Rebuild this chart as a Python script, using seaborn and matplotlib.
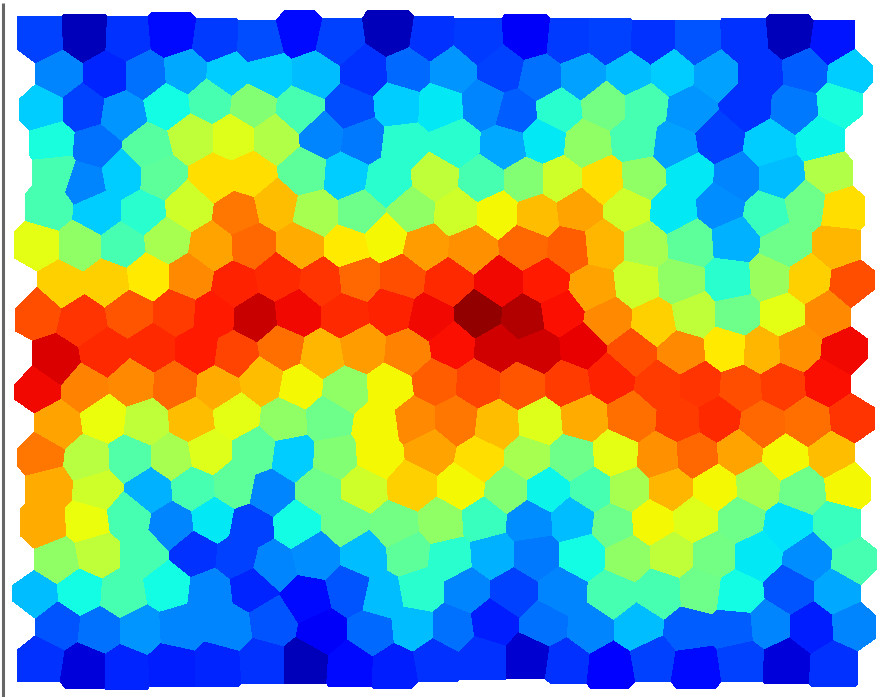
import numpy as np
import matplotlib
matplotlib.use("Agg")
import matplotlib.pyplot as plt
import seaborn as sns

row_x = [
 [40,85,127,172,215,260,300,337,392,430,478,528,568,610,652,697,745,790,832],
 [58,107,145,185,228,268,315,365,408,452,502,540,582,630,672,716,760,805,850],
 [42,83,122,168,210,252,300,350,398,440,485,515,558,605,645,690,747,795,840],
 [52,95,148,192,233,275,323,362,403,455,505,543,587,635,675,718,770,822],
 [55,85,122,160,215,250,305,345,388,435,482,525,560,603,642,690,737,780,830],
 [48,98,143,188,238,275,315,360,412,457,497,537,578,628,673,720,768,805,842],
 [37,80,122,167,212,252,300,348,385,425,472,525,570,603,645,690,735,785,838],
 [60,108,148,190,235,278,322,358,402,448,500,545,593,637,680,730,770,808,852],
 [38,82,130,176,213,255,297,345,392,430,478,525,560,608,655,693,737,782,828],
 [55,105,153,197,235,282,322,362,408,452,497,538,582,632,682,727,762,797,845],
 [37,85,132,175,218,262,300,345,390,435,478,522,568,610,660,700,740,782,828],
 [57,105,145,192,235,285,328,378,415,455,497,540,583,632,680,718,762,808,852],
 [40,88,130,172,208,255,292,335,378,430,480,528,572,615,660,695,740,785,832],
 [48,97,150,193,235,270,320,362,412,462,507,547,592,628,670,715,758,802,848],
 [43,88,128,172,213,250,297,345,395,442,483,530,573,613,652,695,740,788,838],
 [57,97,142,195,238,272,315,365,408,450,492,535,582,628,672,713,757,808,855],
 [35,80,122,168,210,252,307,350,382,420,467,513,562,612,660,700,738,790,838],
 [58,100,140,180,228,273,322,372,413,452,493,545,590,637,690,735,768,812,853],
 [40,85,125,172,218,262,305,350,395,435,482,530,565,612,652,695,742,785,835],
]
row_y = [
 [38,36,38,34,40,42,32,40,32,38,40,36,40,40,42,42,40,36,42],
 [75,75,75,72,74,74,74,72,70,70,70,78,76,74,72,74,72,70,72],
 [108,108,114,105,100,105,110,108,104,106,104,112,110,105,105,110,105,108,104],
 [143,147,148,137,137,138,135,140,145,143,146,140,144,140,145,138,145,140],
 [172,182,175,177,178,175,172,175,182,178,180,180,180,180,178,175,178,178,172],
 [207,212,212,207,213,205,213,213,210,212,213,215,210,208,210,205,213,205,210],
 [245,245,245,240,247,245,245,247,238,247,248,246,248,245,245,243,240,245,245],
 [285,282,277,277,285,277,282,278,277,282,282,282,288,283,282,280,278,280,285],
 [310,320,312,312,315,317,313,315,310,318,315,318,313,320,322,315,315,315,313],
 [362,353,348,350,355,348,355,348,352,345,348,350,347,352,352,348,350,348,352],
 [388,388,383,385,388,380,387,390,388,382,383,385,383,377,385,385,388,385,382],
 [425,418,422,420,415,420,418,425,420,420,425,422,418,417,420,418,425,422,418],
 [455,460,458,458,452,452,457,458,455,450,460,458,458,455,457,455,452,458,455],
 [487,490,490,488,485,492,490,488,485,487,490,490,490,490,488,488,485,490,485],
 [525,522,517,525,520,527,525,522,527,523,520,522,520,525,522,520,520,527,525],
 [560,553,553,553,557,565,555,555,553,558,555,555,555,557,555,555,555,557,562],
 [595,592,595,587,592,587,600,590,597,590,590,592,592,595,592,590,595,590,592],
 [625,630,630,628,628,622,632,632,628,628,622,625,628,628,630,628,625,627,625],
 [660,667,668,665,665,662,662,665,667,660,658,657,662,667,660,667,660,662,665],
]
row_v = [
 [.15,.00,.13,.09,.14,.16,.09,.15,.00,.13,.14,.06,.14,.15,.13,.17,.13,.00,.10],
 [.22,.12,.20,.26,.30,.30,.28,.13,.19,.24,.15,.20,.25,.28,.30,.25,.13,.18,.30],
 [.30,.15,.24,.35,.42,.50,.42,.16,.30,.33,.22,.18,.38,.48,.42,.24,.13,.21,.36],
 [.36,.20,.44,.58,.62,.56,.22,.21,.38,.38,.26,.33,.52,.42,.25,.15,.30,.34],
 [.42,.22,.30,.45,.68,.68,.45,.30,.38,.58,.42,.50,.60,.68,.52,.33,.22,.28,.56],
 [.42,.30,.38,.60,.80,.72,.55,.47,.52,.60,.65,.72,.75,.60,.33,.23,.40,.47,.68],
 [.63,.52,.42,.55,.75,.82,.74,.67,.65,.76,.77,.82,.83,.73,.55,.45,.27,.47,.73],
 [.70,.70,.67,.78,.90,.89,.88,.82,.85,.89,.93,.91,.75,.60,.52,.38,.53,.70,.85],
 [.85,.88,.84,.87,.91,.97,.93,.89,.90,.93,1.02,.99,.92,.78,.70,.58,.47,.63,.78],
 [.95,.89,.89,.91,.86,.81,.73,.76,.79,.92,.96,.96,.94,.85,.78,.67,.73,.77,.93],
 [.93,.79,.78,.82,.74,.72,.65,.52,.65,.83,.86,.84,.87,.90,.87,.88,.85,.87,.92],
 [.75,.64,.58,.72,.63,.52,.47,.65,.78,.80,.72,.62,.74,.81,.87,.89,.82,.81,.88],
 [.80,.57,.43,.55,.62,.45,.30,.50,.65,.75,.68,.55,.47,.63,.77,.82,.75,.65,.72],
 [.74,.60,.27,.42,.45,.22,.47,.60,.70,.65,.50,.34,.42,.55,.73,.65,.55,.47,.65],
 [.74,.64,.42,.22,.33,.15,.35,.47,.48,.52,.40,.23,.28,.47,.65,.62,.47,.32,.40],
 [.52,.58,.42,.13,.15,.22,.23,.28,.45,.38,.27,.21,.35,.52,.58,.48,.33,.23,.42],
 [.28,.35,.42,.35,.22,.12,.09,.17,.28,.38,.22,.15,.22,.42,.42,.47,.35,.17,.26],
 [.17,.20,.24,.22,.22,.17,.06,.19,.28,.20,.11,.20,.22,.28,.18,.18,.22,.11,.22],
 [.13,.03,.12,.11,.12,.13,.00,.09,.11,.13,.13,.02,.13,.08,.15,.09,.15,.03,.13],
]

cx = np.concatenate([np.asarray(r, float) for r in row_x])
cy = np.concatenate([np.asarray(r, float) for r in row_y])
cv = np.concatenate([np.asarray(r, float) for r in row_v])

# Empty seeds just outside the outermost cells close the map's jagged rim.
gx, gy = [], []
side, tb = 46, 44
for xs, ys in zip(row_x, row_y):
    gx += [xs[0] - side, xs[-1] + side]
    gy += [ys[0], ys[-1]]
for xs, ys, d in ((row_x[0], row_y[0], -tb), (row_x[-1], row_y[-1], tb)):
    gx += list(xs)
    gy += [y + d for y in ys]
for px0 in (row_x[0][0], row_x[0][-1]):
    gx.append(px0 + (-side if px0 < 400 else side)); gy.append(row_y[0][0] - tb)
for px0 in (row_x[-1][0], row_x[-1][-1]):
    gx.append(px0 + (-side if px0 < 400 else side)); gy.append(row_y[-1][0] + tb)
ax_all = np.concatenate([cx, np.asarray(gx, float)])
ay_all = np.concatenate([cy, np.asarray(gy, float)])
av_all = np.concatenate([cv, np.full(len(gx), np.nan)])

W, H = 878, 697
field = np.full((H, W), np.nan)
px = np.arange(W) + 0.5
for j in range(H):
    d2 = (px[:, None] - ax_all) ** 2 + (j + 0.5 - ay_all) ** 2
    field[j] = av_all[d2.argmin(axis=1)]

sns.set_style("white")
fig = plt.figure(figsize=(W / 100, H / 100), dpi=100)
ax = fig.add_axes([0, 0, 1, 1])
sns.heatmap(field, ax=ax, cmap="jet", vmin=-0.06, vmax=1.04, cbar=False,
            xticklabels=False, yticklabels=False, mask=np.isnan(field))
for s in ax.spines.values():
    s.set_visible(False)
ax.plot([3.5, 3.5], [3, 697], color="#666666", lw=2.2, solid_capstyle="butt")
ax.set_xlim(0, W)
ax.set_ylim(H, 0)
fig.savefig("out.png", dpi=100)
